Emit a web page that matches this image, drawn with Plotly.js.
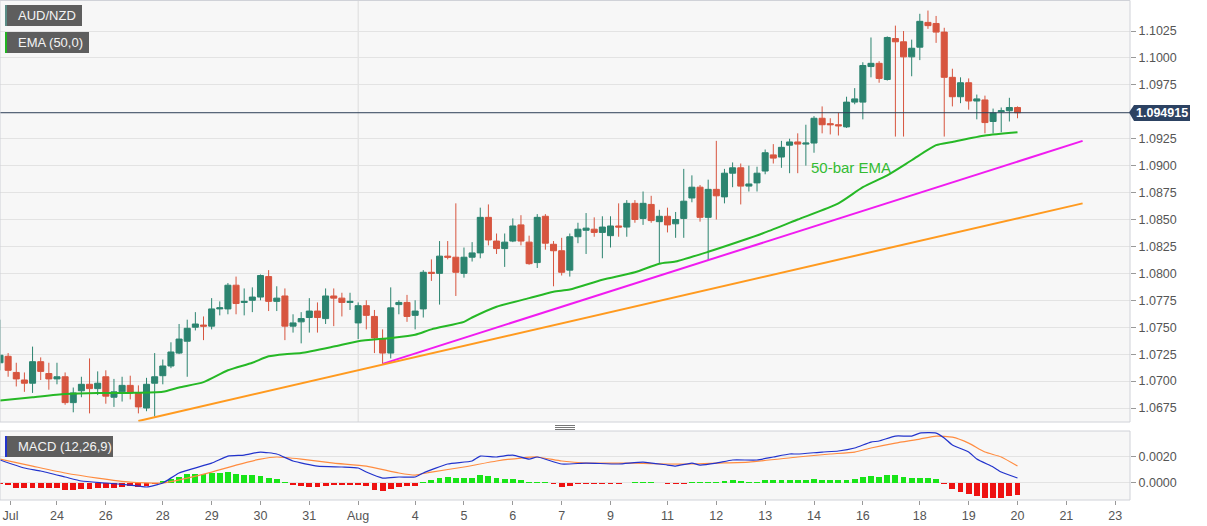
<!DOCTYPE html>
<html><head><meta charset="utf-8">
<script src="https://cdn.plot.ly/plotly-3.0.1.min.js"></script>
<style>html,body{margin:0;padding:0;background:#fff;}#chart{width:1207px;height:526px;}</style>
</head><body><div id="chart"></div>
<script>
// ---- DATA (AUD/NZD 4H candles) ----
const openP = [1.0717,1.0723,1.0708,1.0701,1.0698,1.0718,1.0707,1.0702,1.0704,1.0680,
1.0691,1.0697,1.0693,1.0704,1.0685,1.0690,1.0696,1.0689,1.0675,1.0698,
1.0705,1.0714,1.0726,1.0737,1.0750,1.0752,1.0751,1.0767,1.0767,1.0789,
1.0773,1.0775,1.0778,1.0797,1.0774,1.0779,1.0751,1.0755,1.0759,1.0765,
1.0758,1.0779,1.0777,1.0773,1.0754,1.0770,1.0760,1.0739,1.0726,1.0771,
1.0773,1.0761,1.0767,1.0801,1.0800,1.0816,1.0815,1.0800,1.0815,1.0819,
1.0852,1.0830,1.0823,1.0830,1.0845,1.0829,1.0810,1.0853,1.0827,1.0821,
1.0803,1.0834,1.0840,1.0841,1.0838,1.0835,1.0844,1.0843,1.0865,1.0851,
1.0864,1.0848,1.0853,1.0846,1.0851,1.0870,1.0880,1.0852,1.0878,1.0871,
1.0893,1.0898,1.0881,1.0884,1.0895,1.0910,1.0908,1.0919,1.0922,1.0920,
1.0921,1.0944,1.0939,1.0938,1.0936,1.0959,1.0959,1.0992,1.0995,1.0980,
1.1018,1.1015,1.1001,1.1010,1.1033,1.1032,1.1024,1.0982,1.0964,1.0977,
1.0960,1.0961,1.0941,1.0950,1.0951,1.0954];
const highP = [1.0757,1.0726,1.0717,1.0708,1.0732,1.0722,1.0717,1.0717,1.0708,1.0694,
1.0704,1.0721,1.0709,1.0710,1.0702,1.0704,1.0705,1.0696,1.0703,1.0726,
1.0720,1.0736,1.0753,1.0757,1.0764,1.0760,1.0777,1.0774,1.0791,1.0797,
1.0786,1.0787,1.0799,1.0803,1.0788,1.0786,1.0762,1.0764,1.0777,1.0773,
1.0786,1.0786,1.0782,1.0782,1.0773,1.0775,1.0766,1.0748,1.0787,1.0775,
1.0780,1.0775,1.0803,1.0813,1.0830,1.0830,1.0865,1.0824,1.0829,1.0861,
1.0864,1.0837,1.0837,1.0851,1.0854,1.0835,1.0855,1.0855,1.0830,1.0833,
1.0837,1.0847,1.0856,1.0852,1.0853,1.0853,1.0865,1.0868,1.0868,1.0876,
1.0872,1.0859,1.0861,1.0857,1.0897,1.0891,1.0882,1.0887,1.0923,1.0897,
1.0903,1.0902,1.0900,1.0899,1.0915,1.0920,1.0923,1.0925,1.0930,1.0938,
1.0946,1.0955,1.0944,1.0949,1.0964,1.0972,1.0996,1.1019,1.0997,1.1020,
1.1030,1.1025,1.1017,1.1041,1.1044,1.1039,1.1028,1.0990,1.0982,1.0981,
1.0966,1.0965,1.0953,1.0954,1.0963,1.0955];
const lowP = [1.0710,1.0704,1.0695,1.0690,1.0689,1.0701,1.0692,1.0697,1.0678,1.0671,
1.0685,1.0670,1.0687,1.0679,1.0676,1.0681,1.0683,1.0670,1.0672,1.0667,
1.0697,1.0712,1.0725,1.0704,1.0747,1.0738,1.0748,1.0761,1.0762,1.0762,
1.0761,1.0764,1.0775,1.0765,1.0765,1.0738,1.0745,1.0735,1.0745,1.0745,
1.0753,1.0751,1.0760,1.0766,1.0739,1.0748,1.0726,1.0716,1.0721,1.0762,
1.0755,1.0748,1.0759,1.0793,1.0771,1.0813,1.0779,1.0796,1.0811,1.0814,
1.0826,1.0818,1.0806,1.0829,1.0826,1.0808,1.0805,1.0822,1.0788,1.0798,
1.0797,1.0828,1.0818,1.0834,1.0814,1.0824,1.0834,1.0834,1.0847,1.0845,
1.0847,1.0809,1.0838,1.0833,1.0833,1.0866,1.0848,1.0812,1.0850,1.0865,
1.0880,1.0864,1.0876,1.0876,1.0892,1.0902,1.0898,1.0893,1.0893,1.0900,
1.0912,1.0930,1.0929,1.0928,1.0935,1.0957,1.0943,1.0982,1.0977,1.0979,
1.0927,1.0927,1.0983,1.0998,1.1027,1.1014,1.0927,1.0955,1.0958,1.0952,
1.0943,1.0930,1.0930,1.0931,1.0941,1.0944];
const closeP = [1.0724,1.0710,1.0702,1.0698,1.0718,1.0709,1.0702,1.0704,1.0680,1.0689,
1.0697,1.0693,1.0698,1.0686,1.0690,1.0696,1.0689,1.0676,1.0697,1.0704,
1.0714,1.0727,1.0739,1.0749,1.0753,1.0751,1.0767,1.0768,1.0789,1.0772,
1.0774,1.0778,1.0798,1.0774,1.0777,1.0751,1.0754,1.0758,1.0765,1.0759,
1.0779,1.0777,1.0773,1.0774,1.0770,1.0761,1.0740,1.0726,1.0768,1.0773,
1.0760,1.0765,1.0801,1.0800,1.0816,1.0815,1.0801,1.0815,1.0819,1.0852,
1.0831,1.0823,1.0829,1.0844,1.0830,1.0809,1.0852,1.0828,1.0821,1.0801,
1.0834,1.0841,1.0842,1.0838,1.0843,1.0844,1.0843,1.0865,1.0850,1.0865,
1.0849,1.0853,1.0845,1.0850,1.0867,1.0880,1.0852,1.0878,1.0872,1.0893,
1.0898,1.0881,1.0883,1.0893,1.0912,1.0907,1.0917,1.0922,1.0920,1.0921,
1.0944,1.0938,1.0938,1.0937,1.0959,1.0962,1.0993,1.0995,1.0981,1.1019,
1.1015,1.1001,1.1009,1.1034,1.1030,1.1024,1.0982,1.0964,1.0977,1.0960,
1.0962,1.0940,1.0949,1.0951,1.0954,1.094915];

const emaIdx = [0,4,8,12,16,20,22,25,28,31,33,35,37,41,44,48,51,53,57,58,61,65,68,70,74,78,81,83,87,91,94,98,103,106,109,112,115,117,121,125];
const emaVal = [1.0682,1.0685,1.0688,1.0689,1.0689,1.0690,1.0694,1.0699,1.0710,1.0717,1.0723,1.0725,1.0726,1.0732,1.0737,1.0740,1.0743,1.0748,1.0755,1.0759,1.0769,1.0777,1.0783,1.0785,1.0794,1.0801,1.0809,1.0811,1.0820,1.0830,1.0838,1.0850,1.0865,1.0880,1.0891,1.0905,1.0919,1.0922,1.0928,1.0931];

const supportPinkIdx = [47,133];
const supportPinkVal = [1.0716,1.0923];
const supportOrangeIdx = [17,133];
const supportOrangeVal = [1.0663,1.0865];

const lastPrice = 1.094915;

const macdIdx = [0,3,5,8,10,13,16,18,20,22,26,28,30,32,34,36,39,42,44,45,47,49,51,52,55,58,59,61,63,65,66,69,72,76,79,82,83,85,86,88,90,93,95,97,98,101,103,105,107,108,110,112,113,115,116,117,119,120,122,123,125];
const macdVal = [0.00175,0.00113,0.0009,0.00044,0.00013,-0.00002,-0.00018,-0.00033,-0.00002,0.00075,0.00151,0.00205,0.00213,0.00236,0.00221,0.00167,0.00128,0.00121,0.00113,0.00082,0.00036,0.00044,0.00044,0.00075,0.00144,0.00167,0.00205,0.00198,0.00213,0.00182,0.00198,0.00144,0.00151,0.00144,0.00159,0.00136,0.00128,0.00151,0.00136,0.00151,0.00175,0.00175,0.00198,0.00221,0.00221,0.00236,0.00244,0.00267,0.00313,0.00321,0.00359,0.00359,0.00382,0.00382,0.00344,0.0029,0.00236,0.00182,0.00121,0.00082,0.00036];
const signalIdx = [0,4,8,12,16,20,23,26,29,32,34,37,41,45,49,51,53,57,61,64,66,69,72,78,82,85,88,92,98,102,105,107,110,113,115,117,119,121,123,125];
const signalVal = [0.00182,0.00128,0.00075,0.00036,0.00005,-0.00002,0.00036,0.00082,0.00136,0.00182,0.00198,0.00182,0.00151,0.00128,0.00075,0.00059,0.00082,0.00121,0.00167,0.0019,0.00198,0.00167,0.00151,0.00151,0.00144,0.00144,0.00151,0.00159,0.00198,0.00221,0.00236,0.00267,0.00305,0.00336,0.00359,0.00351,0.00305,0.00236,0.00198,0.00128];
const histVal = [-0.0001,-0.0002,-0.0004,-0.0004,-0.0004,-0.0004,-0.0004,-0.0004,-0.00056,-0.00056,
-0.0005,-0.00046,-0.0004,-0.0004,-0.0004,-0.00035,-0.00026,-0.00035,-0.00026,-0.00013,
0.0001,0.00026,0.00044,0.00064,0.00064,0.00069,0.00077,0.00077,0.00082,0.00064,
0.00056,0.00056,0.00051,0.00038,0.00026,0.00002,-0.00018,-0.00026,-0.00031,-0.00031,
-0.00026,-0.00018,-0.00018,-0.00018,-0.00018,-0.00026,-0.00056,-0.00064,-0.00051,-0.0003,
-0.00026,-0.00023,0.00002,0.00018,0.00033,0.00046,0.0004,0.0004,0.0004,0.00059,
0.00051,0.0004,0.00031,0.00031,0.00018,0.00002,0.00008,0.00002,-0.00013,-0.00031,
-0.00026,-0.00013,-0.0001,-0.0001,-0.0001,-0.0001,-0.00008,-0.00002,0.00002,0.00005,
0.00002,-0.00002,-0.00013,-0.00013,-0.0001,0.00005,0.00002,0.00002,0.00002,0.00013,
0.0002,0.00013,0.00008,0.00008,0.00018,0.00018,0.0002,0.00023,0.00023,0.00018,
0.00026,0.00021,0.00021,0.00018,0.00021,0.00026,0.00044,0.00051,0.00044,0.00056,
0.00059,0.00044,0.00033,0.00033,0.00033,0.00026,-0.00008,-0.00051,-0.00069,-0.0009,
-0.001,-0.0012,-0.0012,-0.00115,-0.001,-0.00097];

const dayTickPos = [1.3,7,13,20,26,32,38,44,51,57,63,69,75,82,88,94,100,106,113,119,125,131,137];
const dayTickText = ['Jul','24','26','28','29','30','31','Aug','4','5','6','7','9','11','12','13','14','16','18','19','20','21','23'];
const priceTicks = [1.0675,1.0700,1.0725,1.0750,1.0775,1.0800,1.0825,1.0850,1.0875,1.0900,1.0925,1.0975,1.1000,1.1025];
const macdTicks = [0, 0.002];

// ---- DRAWING ----
const barIdx = closeP.map((_, i) => i);
const W = 1130, H = 500;               // plot area in px (margins l0 r77 t0 b26)
const PX = x => x / W;
const PY = y => 1 - y / H;
const FONT = 'Liberation Sans, Arial, sans-serif';

const traces = [
  { type: 'candlestick', x: barIdx, open: openP, high: highP, low: lowP, close: closeP,
    xaxis: 'x', yaxis: 'y', hoverinfo: 'skip', whiskerwidth: 0,
    increasing: { line: { color: '#2c8470', width: 1 }, fillcolor: '#2c8470' },
    decreasing: { line: { color: '#d7553f', width: 1 }, fillcolor: '#d7553f' } },
  { type: 'scatter', mode: 'lines', x: emaIdx, y: emaVal, xaxis: 'x', yaxis: 'y',
    line: { color: '#26b826', width: 2, shape: 'spline', smoothing: 0.6 }, hoverinfo: 'skip' },
  { type: 'scatter', mode: 'lines', x: supportPinkIdx, y: supportPinkVal, xaxis: 'x', yaxis: 'y',
    line: { color: '#f01cf0', width: 2 }, hoverinfo: 'skip' },
  { type: 'scatter', mode: 'lines', x: supportOrangeIdx, y: supportOrangeVal, xaxis: 'x', yaxis: 'y',
    line: { color: '#ff9a1f', width: 2 }, hoverinfo: 'skip' },
  { type: 'bar', x: barIdx, y: histVal, xaxis: 'x2', yaxis: 'y2', width: 0.72,
    marker: { color: histVal.map(v => v >= 0 ? '#18e418' : '#ee1111'), line: { width: 0 } }, hoverinfo: 'skip' },
  { type: 'scatter', mode: 'lines', x: signalIdx, y: signalVal, xaxis: 'x2', yaxis: 'y2',
    line: { color: '#ff8c40', width: 1.2, shape: 'spline', smoothing: 0.5 }, hoverinfo: 'skip' },
  { type: 'scatter', mode: 'lines', x: macdIdx, y: macdVal, xaxis: 'x2', yaxis: 'y2',
    line: { color: '#2233cc', width: 1.2, shape: 'spline', smoothing: 0.5 }, hoverinfo: 'skip' }
];

const xr = [0, W / 8.14];
const tickFont = { family: FONT, size: 12.5, color: '#555' };

const shapes = [
  // Aug month separator
  { type: 'line', xref: 'x', yref: 'paper', x0: 44, x1: 44, y0: PY(422), y1: PY(0), line: { color: '#dcdcdc', width: 1 }, layer: 'below' },
  // last price line
  { type: 'line', xref: 'paper', yref: 'y', x0: 0, x1: 1, y0: lastPrice, y1: lastPrice, line: { color: '#2e3f58', width: 1 } },
  // panel borders
  { type: 'rect', xref: 'paper', yref: 'paper', x0: PX(0), x1: PX(W), y0: PY(422), y1: PY(0.5), line: { color: '#d0d2d8', width: 1 } },
  { type: 'rect', xref: 'paper', yref: 'paper', x0: PX(0), x1: PX(W), y0: PY(500), y1: PY(431), line: { color: '#d0d2d8', width: 1 } },
  // legend boxes
  { type: 'rect', xref: 'paper', yref: 'paper', x0: PX(5), x1: PX(82), y0: PY(26), y1: PY(5), fillcolor: '#5e5e5e', line: { width: 0 } },
  { type: 'rect', xref: 'paper', yref: 'paper', x0: PX(5), x1: PX(7), y0: PY(26), y1: PY(5), fillcolor: '#5a8c86', line: { width: 0 } },
  { type: 'rect', xref: 'paper', yref: 'paper', x0: PX(5), x1: PX(89), y0: PY(53), y1: PY(32), fillcolor: '#5e5e5e', line: { width: 0 } },
  { type: 'rect', xref: 'paper', yref: 'paper', x0: PX(5), x1: PX(7), y0: PY(53), y1: PY(32), fillcolor: '#22b422', line: { width: 0 } },
  { type: 'rect', xref: 'paper', yref: 'paper', x0: PX(5), x1: PX(113), y0: PY(457), y1: PY(436), fillcolor: '#5e5e5e', line: { width: 0 } },
  { type: 'rect', xref: 'paper', yref: 'paper', x0: PX(5), x1: PX(7), y0: PY(457), y1: PY(436), fillcolor: '#2233cc', line: { width: 0 } },
  // panel resize handle
  { type: 'line', xref: 'paper', yref: 'paper', x0: PX(555), x1: PX(575), y0: PY(425.5), y1: PY(425.5), line: { color: '#777', width: 1 } },
  { type: 'line', xref: 'paper', yref: 'paper', x0: PX(555), x1: PX(575), y0: PY(427.5), y1: PY(427.5), line: { color: '#777', width: 1 } },
  { type: 'line', xref: 'paper', yref: 'paper', x0: PX(555), x1: PX(575), y0: PY(429.5), y1: PY(429.5), line: { color: '#777', width: 1 } },
  // price tag
  { type: 'path', xref: 'paper', yref: 'paper',
    path: `M ${PX(1129)} ${PY(112.5)} L ${PX(1134)} ${PY(105)} L ${PX(1190)} ${PY(105)} L ${PX(1190)} ${PY(121)} L ${PX(1134)} ${PY(121)} Z`,
    fillcolor: '#2c4262', line: { width: 0 } }
];

const annotations = [
  { xref: 'paper', yref: 'paper', x: PX(16), y: PY(15.5), xanchor: 'left', yanchor: 'middle', showarrow: false,
    text: 'AUD/NZD', font: { family: FONT, size: 13, color: '#f4f4f4' } },
  { xref: 'paper', yref: 'paper', x: PX(16), y: PY(42.5), xanchor: 'left', yanchor: 'middle', showarrow: false,
    text: 'EMA (50,0)', font: { family: FONT, size: 13, color: '#f4f4f4' } },
  { xref: 'paper', yref: 'paper', x: PX(16), y: PY(446.5), xanchor: 'left', yanchor: 'middle', showarrow: false,
    text: 'MACD (12,26,9)', font: { family: FONT, size: 13, color: '#f4f4f4' } },
  { xref: 'paper', yref: 'paper', x: PX(851), y: PY(167), xanchor: 'center', yanchor: 'middle', showarrow: false,
    text: '50-bar EMA', font: { family: FONT, size: 15, color: '#33bb33' } },
  { xref: 'paper', yref: 'paper', x: PX(1162), y: PY(113), xanchor: 'center', yanchor: 'middle', showarrow: false,
    text: '<b>' + lastPrice.toFixed(6) + '</b>', font: { family: FONT, size: 12.5, color: '#ffffff' } }
];

const layout = {
  width: 1207, height: 526,
  margin: { l: 0, r: 77, t: 0, b: 26, pad: 0 },
  paper_bgcolor: '#ffffff', plot_bgcolor: '#f7f7f7',
  showlegend: false, bargap: 0, boxgap: 0.26, boxgroupgap: 0,
  font: { family: FONT },
  xaxis: { domain: [0, 1], range: xr, anchor: 'y', showticklabels: false, showgrid: false, zeroline: false,
           rangeslider: { visible: false }, fixedrange: true, ticks: '' },
  yaxis: { domain: [PY(422), 1], range: [1.06620, 1.10538], side: 'right', anchor: 'x',
           tickvals: priceTicks, ticktext: priceTicks.map(v => v.toFixed(4)),
           gridcolor: '#e3e3e3', gridwidth: 1, zeroline: false, ticks: 'outside', ticklen: 5, tickcolor: '#999',
           tickfont: tickFont, showline: false, fixedrange: true },
  xaxis2: { domain: [0, 1], range: xr, anchor: 'y2', tickvals: dayTickPos, ticktext: dayTickText,
            showgrid: false, zeroline: false, ticks: 'outside', ticklen: 4, tickcolor: '#999',
            tickfont: tickFont, ticklabeloverflow: 'allow', fixedrange: true },
  yaxis2: { domain: [0, PY(431)], range: [-0.00133, 0.00398], side: 'right', anchor: 'x2',
            tickvals: macdTicks, ticktext: macdTicks.map(v => v.toFixed(4)),
            gridcolor: '#e3e3e3', zeroline: false, ticks: 'outside', ticklen: 5, tickcolor: '#999',
            tickfont: tickFont, fixedrange: true },
  shapes, annotations
};

Plotly.newPlot('chart', traces, layout, { displayModeBar: false, staticPlot: true });
</script>
</body></html>
